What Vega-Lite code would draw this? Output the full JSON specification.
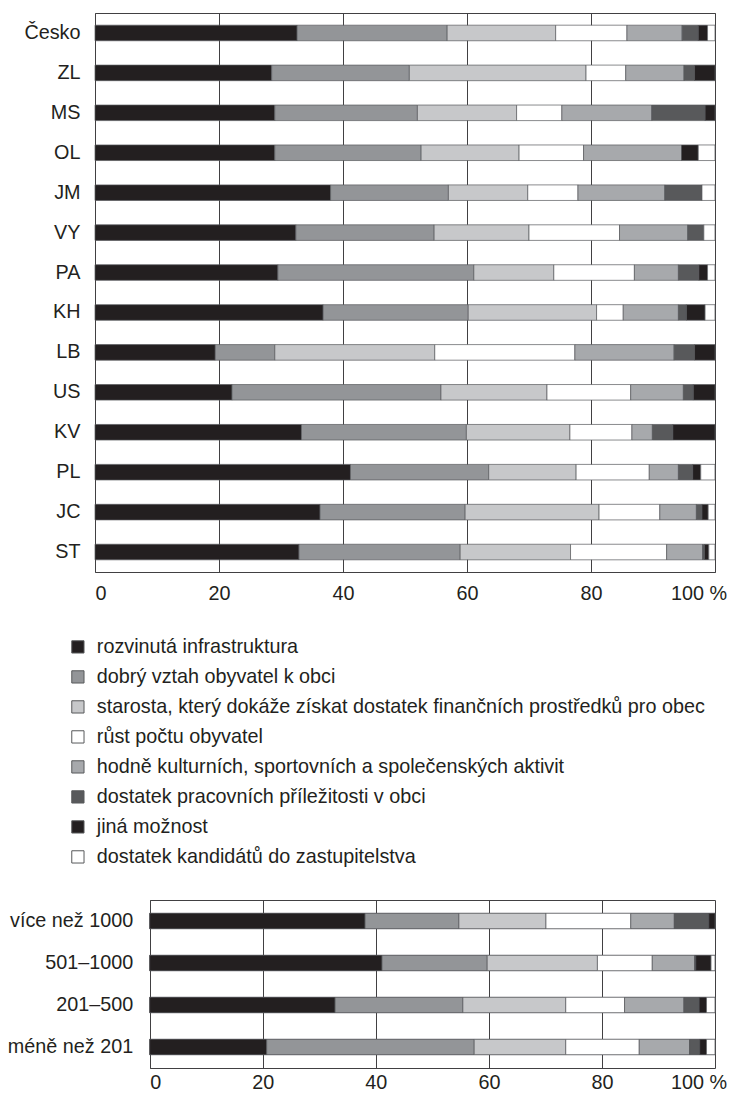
{
  "$schema": "https://vega.github.io/schema/vega-lite/v6.json",
  "autosize": {"type": "pad"},
  "padding": {"left": 7, "top": 12, "right": 0, "bottom": 4},
  "background": "white",
  "config": {
    "font": "Liberation Sans, Arial, sans-serif",
    "view": {"stroke": "#414042", "strokeWidth": 1},
    "axis": {"labelFont": "Liberation Sans, Arial, sans-serif", "labelFontSize": 19.8, "labelColor": "#231f20", "ticks": false, "domain": false, "title": null},
    "legend": {"labelFont": "Liberation Sans, Arial, sans-serif"}
  },
  "datasets": {
    "kat": [
      {"id": "a1", "k": "rozvinutá infrastruktura"},
      {"id": "a2", "k": "dobrý vztah obyvatel k obci"},
      {"id": "a3", "k": "starosta, který dokáže získat dostatek finančních prostředků pro obec"},
      {"id": "a4", "k": "růst počtu obyvatel"},
      {"id": "a5", "k": "hodně kulturních, sportovních a společenských aktivit"},
      {"id": "a6", "k": "dostatek pracovních příležitosti v obci"},
      {"id": "a7", "k": "jiná možnost"},
      {"id": "a8", "k": "dostatek kandidátů do zastupitelstva"}
    ],
    "kraje": [
      {"r": "Česko", "a1": 32.6, "a2": 24.2, "a3": 17.5, "a4": 11.5, "a5": 8.9, "a6": 2.6, "a7": 1.5, "a8": 1.2},
      {"r": "ZL", "a1": 28.5, "a2": 22.2, "a3": 28.5, "a4": 6.4, "a5": 9.4, "a6": 1.7, "a7": 3.3, "a8": 0},
      {"r": "MS", "a1": 29.0, "a2": 23.0, "a3": 16.0, "a4": 7.3, "a5": 14.5, "a6": 8.6, "a7": 1.6, "a8": 0},
      {"r": "OL", "a1": 29.0, "a2": 23.6, "a3": 15.8, "a4": 10.4, "a5": 15.8, "a6": 0, "a7": 2.7, "a8": 2.7},
      {"r": "JM", "a1": 38.0, "a2": 19.0, "a3": 12.8, "a4": 8.1, "a5": 14.0, "a6": 6.0, "a7": 0, "a8": 2.1},
      {"r": "VY", "a1": 32.4, "a2": 22.3, "a3": 15.3, "a4": 14.6, "a5": 11.0, "a6": 2.6, "a7": 0, "a8": 1.8},
      {"r": "PA", "a1": 29.5, "a2": 31.6, "a3": 12.9, "a4": 13.0, "a5": 7.1, "a6": 3.3, "a7": 1.4, "a8": 1.2},
      {"r": "KH", "a1": 36.8, "a2": 23.4, "a3": 20.7, "a4": 4.3, "a5": 8.9, "a6": 1.3, "a7": 3.0, "a8": 1.6},
      {"r": "LB", "a1": 19.4, "a2": 9.6, "a3": 25.8, "a4": 22.6, "a5": 16.0, "a6": 3.3, "a7": 3.3, "a8": 0},
      {"r": "US", "a1": 22.1, "a2": 33.7, "a3": 17.1, "a4": 13.5, "a5": 8.5, "a6": 1.6, "a7": 3.5, "a8": 0},
      {"r": "KV", "a1": 33.3, "a2": 26.6, "a3": 16.7, "a4": 10.0, "a5": 3.3, "a6": 3.3, "a7": 6.8, "a8": 0},
      {"r": "PL", "a1": 41.2, "a2": 22.3, "a3": 14.1, "a4": 11.8, "a5": 4.7, "a6": 2.3, "a7": 1.3, "a8": 2.3},
      {"r": "JC", "a1": 36.3, "a2": 23.4, "a3": 21.6, "a4": 9.8, "a5": 5.9, "a6": 0.9, "a7": 1.0, "a8": 1.1},
      {"r": "ST", "a1": 32.9, "a2": 26.0, "a3": 17.8, "a4": 15.5, "a5": 5.8, "a6": 0.3, "a7": 0.7, "a8": 1.0}
    ],
    "velikost": [
      {"r": "více než 1000", "a1": 38.1, "a2": 16.6, "a3": 15.4, "a4": 15.0, "a5": 7.7, "a6": 6.1, "a7": 1.1, "a8": 0},
      {"r": "501–1000", "a1": 41.1, "a2": 18.6, "a3": 19.5, "a4": 9.7, "a5": 7.5, "a6": 0.2, "a7": 2.7, "a8": 0.7},
      {"r": "201–500", "a1": 32.8, "a2": 22.6, "a3": 18.2, "a4": 10.4, "a5": 10.5, "a6": 2.7, "a7": 1.3, "a8": 1.5},
      {"r": "méně než 201", "a1": 20.7, "a2": 36.7, "a3": 16.2, "a4": 13.0, "a5": 8.9, "a6": 1.8, "a7": 1.2, "a8": 1.5}
    ]
  },
  "spacing": 32,
  "resolve": {"scale": {"color": "independent"}, "legend": {"color": "independent"}},
  "vconcat": [
    {
      "width": 620,
      "height": 559,
      "data": {"name": "kraje"},
      "transform": [
        {"fold": ["a1", "a2", "a3", "a4", "a5", "a6", "a7", "a8"], "as": ["key", "v"]},
        {"filter": "datum.v > 0"},
        {"lookup": "key", "from": {"data": {"name": "kat"}, "key": "id", "fields": ["k"]}}
      ],
      "mark": {"type": "bar", "stroke": "#58595b", "strokeWidth": 0.7},
      "encoding": {
        "y": {
          "field": "r", "type": "nominal",
          "sort": ["Česko", "ZL", "MS", "OL", "JM", "VY", "PA", "KH", "LB", "US", "KV", "PL", "JC", "ST"],
          "scale": {"paddingInner": 0.61, "paddingOuter": 0.305},
          "axis": {"labelPadding": 15, "minExtent": 86.3, "title": null}
        },
        "x": {
          "field": "v", "type": "quantitative", "stack": "zero",
          "scale": {"domain": [0, 100], "nice": false},
          "axis": {
            "values": [0, 20, 40, 60, 80, 100], "grid": true, "gridColor": "#414042", "gridWidth": 1,
            "labelPadding": 11, "title": null,
            "labelExpr": "datum.value == 100 ? '100 %' : datum.label",
            "labelOffset": {"condition": {"test": "datum.value == 100", "value": 11.5}, "value": 0}
          }
        },
        "color": {
          "field": "k", "type": "nominal",
          "scale": {
            "domain": ["rozvinutá infrastruktura", "dobrý vztah obyvatel k obci", "starosta, který dokáže získat dostatek finančních prostředků pro obec", "růst počtu obyvatel", "hodně kulturních, sportovních a společenských aktivit", "dostatek pracovních příležitosti v obci", "jiná možnost", "dostatek kandidátů do zastupitelstva"],
            "range": ["#231f20", "#939598", "#c7c8ca", "#ffffff", "#a7a9ac", "#58595b", "#231f20", "#ffffff"]
          },
          "legend": {
            "title": null, "orient": "none", "legendX": -27, "legendY": 624, "direction": "vertical",
            "symbolType": "square", "symbolSize": 150, "symbolStrokeColor": "#58595b", "symbolStrokeWidth": 1,
            "labelFontSize": 19.8, "labelColor": "#231f20", "labelOffset": 9, "rowPadding": 9,
            "padding": 0, "labelLimit": 700
          }
        },
        "order": {"field": "key", "type": "ordinal"}
      }
    },
    {
      "width": 620,
      "height": 168,
      "view": {"stroke": null},
      "data": {"name": "velikost"},
      "transform": [
        {"fold": ["a1", "a2", "a3", "a4", "a5", "a6", "a7", "a8"], "as": ["key", "v"]},
        {"filter": "datum.v > 0"},
        {"lookup": "key", "from": {"data": {"name": "kat"}, "key": "id", "fields": ["k"]}}
      ],
      "encoding": {
        "y": {
          "field": "r", "type": "nominal",
          "sort": ["více než 1000", "501–1000", "201–500", "méně než 201"],
          "scale": {"paddingInner": 0.635, "paddingOuter": 0.3175},
          "axis": {"labelPadding": -37.7, "minExtent": 86.3, "title": null}
        },
        "color": {
          "field": "k", "type": "nominal",
          "scale": {
            "domain": ["rozvinutá infrastruktura", "dobrý vztah obyvatel k obci", "starosta, který dokáže získat dostatek finančních prostředků pro obec", "růst počtu obyvatel", "hodně kulturních, sportovních a společenských aktivit", "dostatek pracovních příležitosti v obci", "jiná možnost", "dostatek kandidátů do zastupitelstva"],
            "range": ["#231f20", "#939598", "#c7c8ca", "#ffffff", "#a7a9ac", "#58595b", "#231f20", "#ffffff"]
          },
          "legend": null
        },
        "order": {"field": "key", "type": "ordinal"}
      },
      "layer": [
        {
          "mark": {"type": "bar", "stroke": "#58595b", "strokeWidth": 0.7},
          "encoding": {
            "x": {
              "field": "v", "type": "quantitative", "stack": "zero",
              "scale": {"domain": [0, 100], "nice": false, "range": [54.7, 620]},
              "axis": {
                "values": [0, 20, 40, 60, 80, 100], "grid": true, "gridColor": "#414042", "gridWidth": 1,
                "domain": true, "domainColor": "#414042", "domainWidth": 1,
                "labelPadding": 4, "title": null,
                "labelExpr": "datum.value == 100 ? '100 %' : datum.label",
                "labelOffset": {"condition": {"test": "datum.value == 100", "value": 11.5}, "value": 0}
              }
            }
          }
        },
        {
          "mark": {"type": "bar", "stroke": "#58595b", "strokeWidth": 0.7},
          "encoding": {
            "x": {
              "field": "v", "type": "quantitative", "stack": "zero",
              "axis": {
                "orient": "top", "labels": false, "grid": false,
                "domain": true, "domainColor": "#414042", "domainWidth": 1, "title": null
              }
            }
          }
        }
      ],
      "resolve": {"axis": {"x": "independent"}}
    }
  ]
}
